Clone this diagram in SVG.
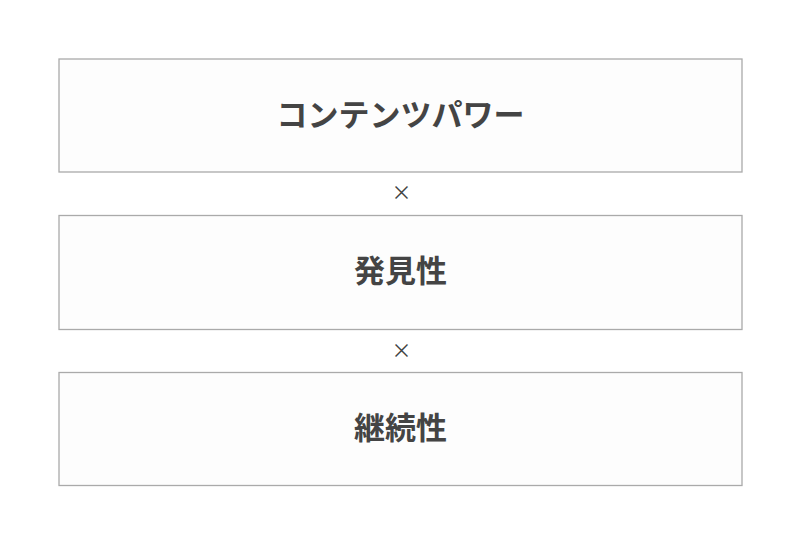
<svg xmlns="http://www.w3.org/2000/svg" width="800" height="544" viewBox="0 0 800 544">
  <style>
    .box { fill: #fdfdfd; stroke: #aaaaaa; stroke-width: 1.3; }
    .label { font-family: "Noto Sans CJK JP", "Noto Sans", sans-serif; font-weight: bold; font-size: 31px; fill: #444444; text-anchor: middle; dominant-baseline: central; }
    .op { font-family: "Noto Sans CJK JP", "Noto Sans", sans-serif; font-size: 20px; fill: #444444; text-anchor: middle; dominant-baseline: central; }
  </style>
  <rect width="800" height="544" fill="#ffffff"/>
  <g id="node-content-power">
    <rect class="box" x="59" y="59" width="683" height="113"/>
    <text class="label" x="400.5" y="112">コンテンツパワー</text>
  </g>
  <g id="connectors">
    <text class="op" x="401.5" y="191">×</text>
    <text class="op" x="401.5" y="349">×</text>
  </g>
  <g id="node-discoverability">
    <rect class="box" x="59" y="215.5" width="683" height="114"/>
    <text class="label" x="400.5" y="268.5">発見性</text>
  </g>
  <g id="node-continuity">
    <rect class="box" x="59" y="372.5" width="683" height="113"/>
    <text class="label" x="400.5" y="425.5">継続性</text>
  </g>
</svg>
